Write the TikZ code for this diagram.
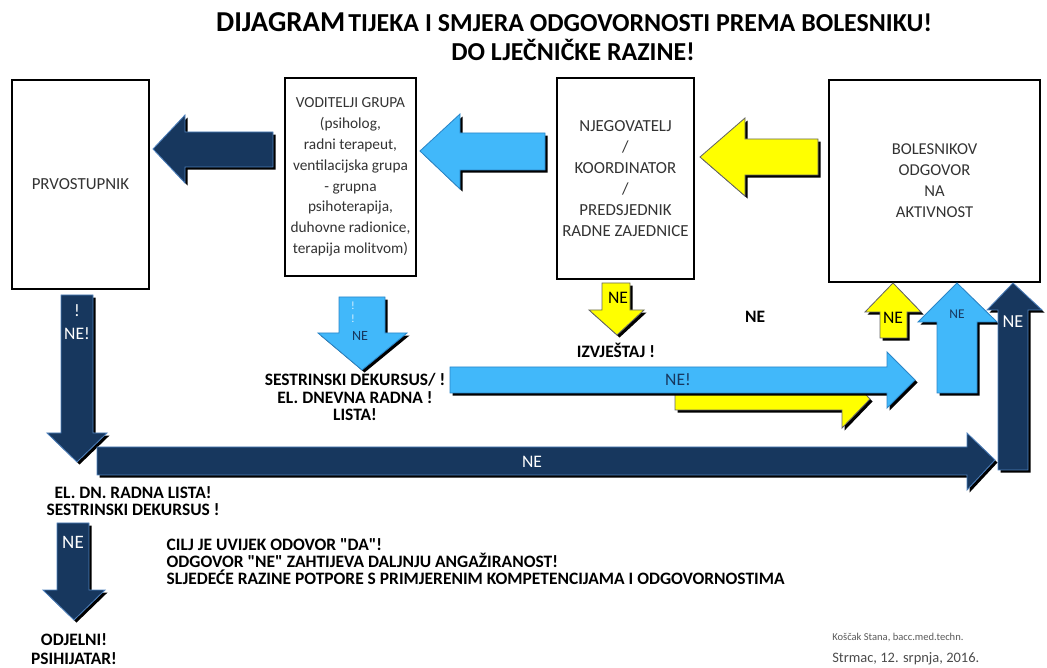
\documentclass[tikz,border=0pt]{standalone}
\usepackage{fontspec}
\setmainfont{Carlito}
\usepackage{tikz}
\usetikzlibrary{shadows}
\definecolor{navyarr}{HTML}{17375E}
\definecolor{navyedge}{HTML}{4F81BD}
\definecolor{skyarr}{HTML}{41B8FA}
\definecolor{skyedge}{HTML}{2B86C8}
\definecolor{yelarr}{HTML}{FFFF00}

\begin{document}
\begin{tikzpicture}[
  x=0.025cm, y=-0.025cm,
  box/.style={draw=black, line width=1.5pt, fill=white, align=center,
              text=black!80, inner sep=2pt},
  blockarr/.style={line width=0.6pt, line join=miter,
              drop shadow={shadow xshift=1.8pt, shadow yshift=-1.8pt, opacity=1, fill=black}},
  navyblk/.style={blockarr, fill=navyarr, draw=navyedge},
  skyblk/.style={blockarr, fill=skyarr, draw=skyedge},
  yelblk/.style={blockarr, fill=yelarr, draw=black!60},
  inarr/.style={font=\fontsize{12.5}{13}\selectfont, inner sep=1pt},
  lbl/.style={font=\bfseries\fontsize{12.4}{12.2}\selectfont, align=center, inner sep=1pt},
]
  \useasboundingbox (0,0) rectangle (1047,668);

  % title
  \node[font=\bfseries, inner sep=0pt] (title1) at (574,22)
    {{\fontsize{20.5}{20}\selectfont DIJAGRAM} {\fontsize{18.4}{20}\selectfont TIJEKA I SMJERA ODGOVORNOSTI PREMA BOLESNIKU!}};
  \node[font=\bfseries\fontsize{18.4}{20}\selectfont, inner sep=0pt] (title2) at (573,50) {DO LJEČNIČKE RAZINE!};

  % boxes
  \node[box, font=\fontsize{12}{15}\selectfont, minimum width=3.425cm, minimum height=5.225cm] (prv) at (80.5,184.5) {PRVOSTUPNIK};
  \node[box, font=\fontsize{10.9}{14.8}\selectfont, minimum width=3.275cm, minimum height=4.95cm] (vod) at (350.5,177)
    {VODITELJI GRUPA\\(psiholog,\\radni terapeut,\\ventilacijska grupa\\- grupna\\psihoterapija,\\duhovne radionice,\\terapija molitvom)};
  \node[box, font=\fontsize{12}{15}\selectfont, minimum width=3.425cm, minimum height=5.025cm] (njeg) at (625.5,178.5)
    {NJEGOVATELJ\\/\\KOORDINATOR\\/\\PREDSJEDNIK\\RADNE ZAJEDNICE};
  \node[box, font=\fontsize{11.8}{15}\selectfont, minimum width=5.275cm, minimum height=5.05cm] (bol) at (934.5,181)
    {BOLESNIKOV\\ODGOVOR\\NA\\AKTIVNOST};

  % arrows between the boxes
  \draw[navyblk] (273,132) -- (185,132) -- (185,115) -- (153,149) -- (185,183) -- (185,167) -- (273,167) -- cycle;
  \draw[skyblk] (545,133) -- (460,133) -- (460,114) -- (420,151) -- (460,189) -- (460,170) -- (545,170) -- cycle;
  \draw[yelblk] (818,139) -- (745,139) -- (745,118) -- (700,157) -- (745,196) -- (745,175) -- (818,175) -- cycle;

  % arrows down from the boxes
  \draw[navyblk] (61,295) -- (93,295) -- (93,433) -- (107,433) -- (77,462) -- (47,433) -- (61,433) -- cycle;
  \draw[skyblk] (339,297) -- (385,297) -- (385,333) -- (407,333) -- (362,370) -- (318,333) -- (339,333) -- cycle;
  \draw[yelblk] (602,283) -- (630,283) -- (630,310) -- (644,310) -- (617,335) -- (589,310) -- (602,310) -- cycle;

  % long arrows back to the patient
  \draw[yelblk] (675,385) -- (842,385) -- (842,370) -- (870,399) -- (842,428) -- (842,410) -- (675,410) -- cycle;
  \draw[skyblk] (450,367) -- (887,367) -- (887,352) -- (915,380) -- (887,408) -- (887,393) -- (450,393) -- cycle;
  \draw[navyblk] (97,447) -- (967,447) -- (967,433) -- (995,460) -- (967,490) -- (967,475) -- (97,475) -- cycle;

  % arrows up to the patient
  \draw[yelblk] (880,338) -- (880,312) -- (865,312) -- (893,283) -- (921,312) -- (907,312) -- (907,338) -- cycle;
  \draw[skyblk] (937,393) -- (937,322) -- (918,322) -- (957,283) -- (997,322) -- (977,322) -- (977,393) -- cycle;
  \draw[navyblk] (998,470) -- (998,310) -- (987,310) -- (1013,283) -- (1042,310) -- (1028,310) -- (1028,470) -- cycle;

  % last arrow
  \draw[navyblk] (57,523) -- (89,523) -- (89,590) -- (105,590) -- (74,620) -- (43,590) -- (57,590) -- cycle;

  % texts in the arrows
  \node[inarr, text=white, align=center, font=\fontsize{12.5}{16}\selectfont] (neA) at (77,322) {!\\NE!};
  \node[inarr, text=white!85!skyarr, align=center, font=\fontsize{8}{9}\selectfont] (exB) at (353,312) {!\\!};
  \node[inarr, text=navyarr, font=\fontsize{10}{11}\selectfont] (neB) at (360,336) {NE};
  \node[inarr, text=black] (neC) at (618,298) {NE};
  \node[inarr, text=navyarr] (neD) at (678,380) {NE!};
  \node[inarr, text=white] (neE) at (532,462) {NE};
  \node[inarr, text=black] (neF) at (893,318) {NE};
  \node[inarr, text=navyarr, font=\fontsize{9.5}{11}\selectfont] (neG) at (957,314) {NE};
  \node[inarr, text=white, font=\fontsize{13}{14}\selectfont] (neH) at (1013,322) {NE};
  \node[inarr, text=white, font=\fontsize{13.5}{14}\selectfont] (neI) at (73,542) {NE};

  % black labels
  \node[lbl] (dek) at (355,397) {SESTRINSKI DEKURSUS/ !\\EL. DNEVNA RADNA !\\LISTA!};
  \node[lbl] (izv) at (616,350) {IZVJEŠTAJ !};
  \node[lbl] (ne) at (755,317) {NE};
  \node[lbl] (eldn) at (133,501) {EL. DN. RADNA LISTA!\\SESTRINSKI DEKURSUS !};
  \node[lbl, font=\bfseries\fontsize{12.4}{13.6}\selectfont] (odj) at (74,649) {ODJELNI!\\PSIHIJATAR!};
  \node[lbl, align=left, anchor=north west] (cilj) at (165,537)
    {CILJ JE UVIJEK ODOVOR \textquotedbl DA\textquotedbl!\\ODGOVOR \textquotedbl NE\textquotedbl\ ZAHTIJEVA DALJNJU ANGAŽIRANOST!\\SLJEDEĆE RAZINE POTPORE S PRIMJERENIM KOMPETENCIJAMA I ODGOVORNOSTIMA};

  % signature
  \node[anchor=west, text=black!65, font=\fontsize{7.5}{8}\selectfont, inner sep=0pt] (autor) at (832,638) {Koščak Stana, bacc.med.techn.};
  \node[anchor=west, text=black!70, font=\fontsize{10.3}{11}\selectfont, inner sep=0pt] (datum) at (832,659) {Strmac, 12. srpnja, 2016.};
\end{tikzpicture}
\end{document}
